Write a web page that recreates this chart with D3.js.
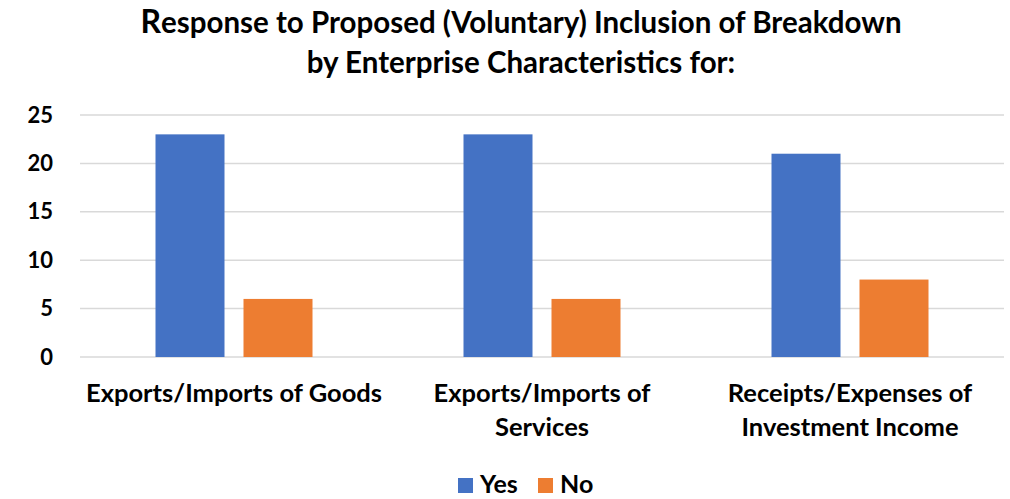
<!DOCTYPE html>
<html><head><meta charset="utf-8">
<script src="https://cdn.jsdelivr.net/npm/d3@7"></script>
<style>body{margin:0;background:#fff;} text{font-family:Lato,"Open Sans",sans-serif;font-weight:bold;}</style>
</head><body>
<svg id="c" width="1010" height="499"></svg>
<script>
const categories = ["Exports/Imports of Goods", "Exports/Imports of Services", "Receipts/Expenses of Investment Income"];
const series = ["Yes", "No"];
const yesValues = [23, 23, 21];
const noValues = [6, 6, 8];
const yTicks = [0, 5, 10, 15, 20, 25];
const colors = ["#4472C4", "#ED7D31"];
const titleLines = ["Response to Proposed (Voluntary) Inclusion of Breakdown", "by Enterprise Characteristics for:"];

const svg = d3.select("#c");
const W = 1010, H = 499;
const m = {left: 80, right: 6, top: 115, bottom: 142};
const x = d3.scaleBand().domain(categories).range([m.left, W - m.right]);
const innerPadOuter = 75.5 / 308;
const x1 = d3.scaleBand().domain(series).range([x.bandwidth()*innerPadOuter, x.bandwidth()*(1-innerPadOuter)]).paddingInner(19/88);
const y = d3.scaleLinear().domain([0, 25]).range([H - m.bottom, m.top]);

// grid
svg.append("g").selectAll("line").data(yTicks).join("line")
  .attr("x1", m.left).attr("x2", W - m.right)
  .attr("y1", d => y(d)).attr("y2", d => y(d))
  .attr("stroke", "#d9d9d9").attr("stroke-width", 1.5);

// y axis labels
const yAxis = d3.axisLeft(y).tickValues(yTicks).tickSize(0).tickPadding(0);
const ga = svg.append("g").attr("transform", `translate(53,0)`).call(yAxis);
ga.select(".domain").remove();
ga.selectAll("text").style("font-size", "22px").attr("fill", "#000").style("font-family", "Lato, sans-serif").style("font-weight","bold");

// bars
const data = categories.map((c, i) => ({c, vals: [yesValues[i], noValues[i]]}));
const g = svg.append("g").selectAll("g").data(data).join("g")
  .attr("transform", d => `translate(${x(d.c)},0)`);
g.selectAll("rect").data(d => d.vals.map((v, j) => ({s: series[j], v, j}))).join("rect")
  .attr("x", d => x1(d.s)).attr("width", x1.bandwidth())
  .attr("y", d => y(d.v)).attr("height", d => y(0) - y(d.v))
  .attr("fill", d => colors[d.j]);

// x labels with wrapping
const xl = svg.append("g").selectAll("text").data(categories).join("text")
  .attr("x", d => x(d) + x.bandwidth()/2).attr("y", 402)
  .attr("text-anchor", "middle").style("font-size", "25.5px").attr("fill", "#000");
xl.each(function(d) {
  const t = d3.select(this);
  const words = d.split(" ");
  let line = [], lines = [];
  const tmp = t.append("tspan");
  words.forEach(w => {
    line.push(w);
    tmp.text(line.join(" "));
    if (tmp.node().getComputedTextLength() > x.bandwidth() && line.length > 1) {
      line.pop(); lines.push(line.join(" ")); line = [w];
    }
  });
  lines.push(line.join(" "));
  tmp.remove();
  lines.forEach((l, i) => t.append("tspan").attr("x", x(d) + x.bandwidth()/2).attr("dy", i ? 33.5 : 0).text(l));
});

// title
const tt = svg.append("g");
titleLines.forEach((l, i) => {
  const t = tt.append("text").attr("x", W/2 + 16).attr("y", 33 + i*40).attr("text-anchor", "middle")
    .style("font-size", "29.5px").attr("fill", "#000");
  if (i === 0) {
    t.append("tspan").style("font-size", "32px").text(l[0]);
    t.append("tspan").text(l.slice(1));
  } else t.text(l);
});

// legend
const lg = svg.append("g");
const legendX = [458, 538];
series.forEach((s, i) => {
  lg.append("rect").attr("x", legendX[i]).attr("y", 478).attr("width", 15).attr("height", 15).attr("fill", colors[i]);
  lg.append("text").attr("x", legendX[i] + 22).attr("y", 493).style("font-size", "25px").attr("fill", "#000").text(s);
});
</script>
</body></html>
